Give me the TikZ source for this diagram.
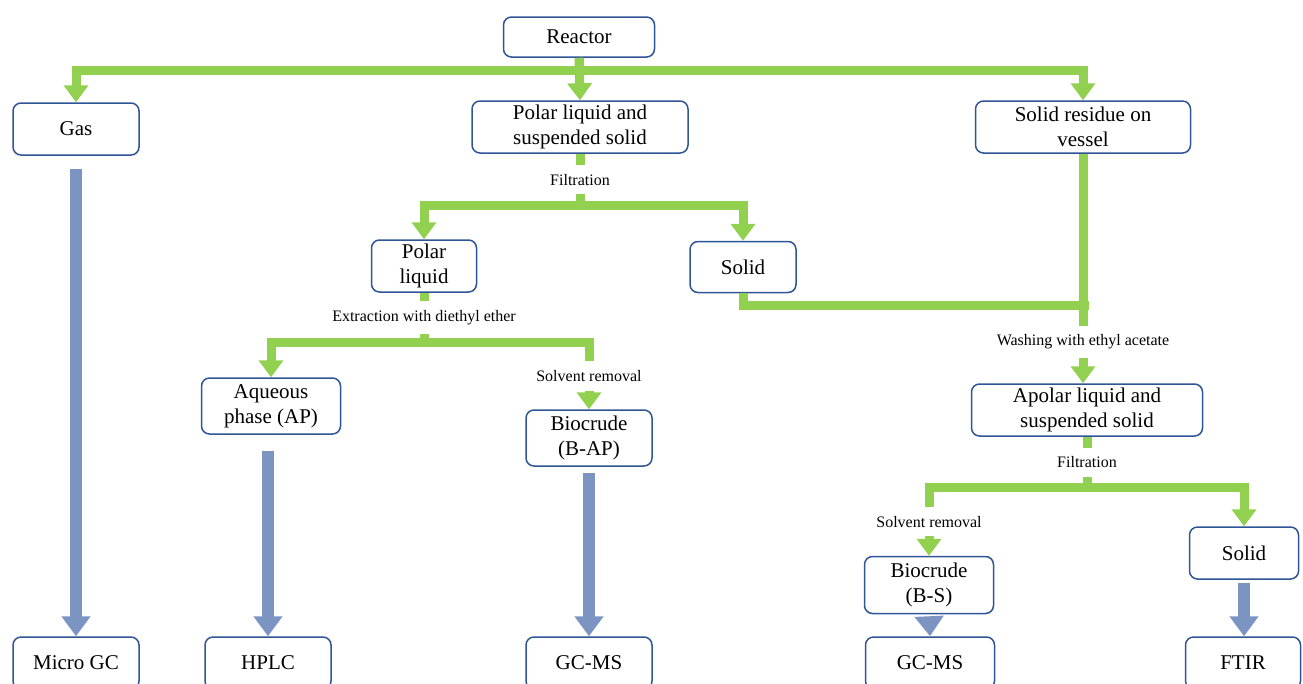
\documentclass[tikz,border=0pt]{standalone}
\usepackage{fontspec}
\setmainfont{Liberation Serif}
\usepackage{tikz}
\usetikzlibrary{arrows.meta}
\usetikzlibrary{positioning}

\definecolor{flowgreen}{RGB}{146,208,80}
\definecolor{boxblue}{RGB}{47,85,151}
\definecolor{pipeblue}{RGB}{124,148,194}

\tikzset{
  box/.style={rectangle, draw=boxblue, line width=1.5pt, fill=white, rounded corners=8pt, align=center, inner sep=2pt, font=\fontsize{21}{25}\selectfont},
  flow/.style={draw=flowgreen, line width=9pt},
  flowarrow/.style={flow, -{Triangle[width=24pt,length=17pt]}},
  pipe/.style={draw=pipeblue, line width=12pt, -{Triangle[width=28pt,length=20pt]}},
  steplabel/.style={fill=white, inner xsep=3pt, inner ysep=9pt, font=\fontsize{16}{18}\selectfont}
}

\begin{document}
\begin{tikzpicture}[x=1pt, y=-1pt]

\path[use as bounding box] (0,0) rectangle (1303,683);
\clip (0,0) rectangle (1303,683);

%% top level
\node at (579,37) [box, minimum width=151pt, minimum height=40pt] (reactor) {Reactor};
\node at (76,129) [box, minimum width=126pt, minimum height=52pt] (gas) {Gas};
\node at (580,127) [box, minimum width=216pt, minimum height=52pt] (polarsusp) {Polar liquid and\\suspended solid};
\node at (1083,127) [box, minimum width=215pt, minimum height=52pt] (residue) {Solid residue on\\vessel};

%% after filtration
\node at (424,266) [box, minimum width=105pt, minimum height=52pt] (polarliq) {Polar\\liquid};
\node at (743,267) [box, minimum width=106pt, minimum height=51pt] (solidmid) {Solid};
\node at (271,406) [box, minimum width=139pt, minimum height=56pt] (aqueous) {Aqueous\\phase (AP)};
\node at (589,438) [box, minimum width=126pt, minimum height=56pt] (bap) {Biocrude\\(B-AP)};

%% washing branch
\node at (1087,410) [box, minimum width=231pt, minimum height=52pt] (apolar) {Apolar liquid and\\suspended solid};
\node at (929,585) [box, minimum width=129pt, minimum height=57pt] (bs) {Biocrude\\(B-S)};
\node at (1244,553) [box, minimum width=109pt, minimum height=52pt] (solidright) {Solid};

%% analyses
\node at (76,663) [box, minimum width=126pt, minimum height=52pt] (microgc) {Micro GC};
\node at (268,663) [box, minimum width=126pt, minimum height=52pt] (hplc) {HPLC};
\node at (589,663) [box, minimum width=126pt, minimum height=52pt] (gcmsa) {GC-MS};
\node at (930,663) [box, minimum width=129pt, minimum height=52pt] (gcmsb) {GC-MS};
\node at (1243,663) [box, minimum width=115pt, minimum height=52pt] (ftir) {FTIR};

\coordinate (join) at (1089,305);

\begin{scope}
	\draw [flowarrow] (reactor.south) -- ++(0,13) -| (gas.north);
	\draw [flowarrow] (reactor.south) -- ++(0,13) -| (residue.north);
	\draw [flowarrow] (reactor.south) -- (polarsusp.north);

	\draw [flowarrow] (polarsusp.south) -- ++(0,52) -| (polarliq.north);
	\draw [flowarrow] (polarsusp.south) -- node[steplabel] {Filtration} ++(0,52) -| (solidmid.north);

	\draw [flowarrow] (polarliq.south) -- ++(0,50) -| (aqueous.north);
	\draw [flowarrow] (polarliq.south) -- node[steplabel] {Extraction with diethyl ether} ++(0,50) -| node[steplabel, pos=0.75] {Solvent removal} (bap.north);

	\draw [flow] (solidmid.south) |- (join);
	\draw [flowarrow] (residue.south) -- node[steplabel, pos=0.82] {Washing with ethyl acetate} (residue.south |- apolar.north);

	\draw [flowarrow] (apolar.south) -- ++(0,51) -| (solidright.north);
	\draw [flowarrow] (apolar.south) -- node[steplabel] {Filtration} ++(0,51) -| node[steplabel, pos=0.75] {Solvent removal} (bs.north);
\end{scope}

\begin{scope}
	\draw [pipe, shorten <=13pt] (gas.south) -- (microgc.north);
	\draw [pipe, shorten <=16pt] (aqueous.south -| hplc.north) -- (hplc.north);
	\draw [pipe, shorten <=6pt] (bap.south) -- (gcmsa.north);
	\draw [pipe, shorten <=3pt] (bs.south) -- (gcmsb.north);
	\draw [pipe, shorten <=3pt] (solidright.south) -- (ftir.north -| solidright.south);
\end{scope}

\end{tikzpicture}
\end{document}
